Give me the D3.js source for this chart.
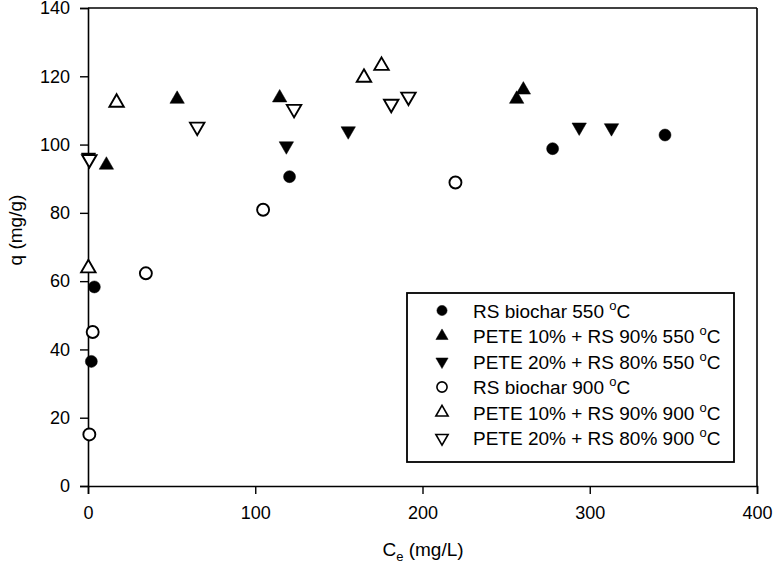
<!DOCTYPE html>
<html>
<head>
<meta charset="utf-8">
<script src="https://cdn.jsdelivr.net/npm/d3@7"></script>
<style>
  html, body { margin: 0; padding: 0; background: #fff; }
  svg { display: block; font-family: "Liberation Sans", Arial, sans-serif; }
</style>
</head>
<body>
<svg id="chart" width="775" height="571"></svg>
<script>
// ---- data ----
const xTicks = [0, 100, 200, 300, 400];
const yTicks = [0, 20, 40, 60, 80, 100, 120, 140];

const rs550X = [2, 3.8, 120.5, 277.8, 345];
const rs550Y = [36.5, 58.3, 90.6, 98.8, 102.8];

const pete10_550X = [11, 53.3, 114.6, 256.3, 260.3];
const pete10_550Y = [94.0, 113.3, 113.7, 113.3, 116.0];

const pete20_550X = [0.3, 118.6, 155.6, 293.7, 313.0];
const pete20_550Y = [96.3, 99.6, 104.0, 105.1, 104.9];

const rs900X = [0.8, 2.8, 34.6, 104.7, 219.7];
const rs900Y = [15.1, 45.1, 62.3, 80.9, 88.9];

const pete10_900X = [0.2, 17.1, 165.0, 175.5];
const pete10_900Y = [63.8, 112.3, 119.6, 123.1];

const pete20_900X = [0.8, 65.3, 123.2, 181.3, 191.6];
const pete20_900Y = [95.7, 105.2, 110.4, 111.9, 114.0];

const seriesNames = [
  "RS biochar 550",
  "PETE 10% + RS 90% 550",
  "PETE 20% + RS 80% 550",
  "RS biochar 900",
  "PETE 10% + RS 90% 900",
  "PETE 20% + RS 80% 900"
];

// ---- build ----
const series = [
  { name: seriesNames[0], xs: rs550X, ys: rs550Y, shape: "circle", filled: true },
  { name: seriesNames[1], xs: pete10_550X, ys: pete10_550Y, shape: "up", filled: true },
  { name: seriesNames[2], xs: pete20_550X, ys: pete20_550Y, shape: "down", filled: true },
  { name: seriesNames[3], xs: rs900X, ys: rs900Y, shape: "circle", filled: false },
  { name: seriesNames[4], xs: pete10_900X, ys: pete10_900Y, shape: "up", filled: false },
  { name: seriesNames[5], xs: pete20_900X, ys: pete20_900Y, shape: "down", filled: false }
];

const svg = d3.select("#chart");
const x = d3.scaleLinear().domain([0, 400]).range([88, 757]);
const y = d3.scaleLinear().domain([0, 140]).range([486, 8]);

function symPath(shape, scale) {
  if (shape === "circle") return d3.symbol().type(d3.symbolCircle).size(113 * scale)();
  return d3.symbol().type(d3.symbolTriangle).size(90 * scale)();
}
function symTransform(shape, px, py) {
  if (shape === "down") return `translate(${px},${py}) rotate(180)`;
  return `translate(${px},${py})`;
}

// frame (top and right)
svg.append("line").attr("x1", x(0)).attr("x2", x(400)).attr("y1", y(140)).attr("y2", y(140))
  .attr("stroke", "#000").attr("stroke-width", 1.6);
svg.append("line").attr("x1", x(400)).attr("x2", x(400)).attr("y1", y(0)).attr("y2", y(140))
  .attr("stroke", "#000").attr("stroke-width", 1.6);

// axes
const xAxis = svg.append("g").attr("transform", `translate(0,${y(0)})`)
  .call(d3.axisBottom(x).tickValues(xTicks).tickSize(8).tickPadding(12).tickFormat(d3.format("d")));
const yAxis = svg.append("g").attr("transform", `translate(${x(0)},0)`)
  .call(d3.axisLeft(y).tickValues(yTicks).tickSize(8).tickPadding(10).tickFormat(d3.format("d")));
[xAxis, yAxis].forEach(g => {
  g.select(".domain").attr("stroke", "#000").attr("stroke-width", 1.6);
  g.selectAll(".tick line").attr("stroke", "#000").attr("stroke-width", 1.4);
  g.selectAll(".tick text").attr("fill", "#000").attr("font-family", "Liberation Sans, Arial, sans-serif")
    .attr("font-size", 18);
});

// axis titles
const xt = svg.append("text").attr("x", 423).attr("y", 556).attr("text-anchor", "middle")
  .attr("font-size", 19).attr("fill", "#000");
xt.append("tspan").text("C");
xt.append("tspan").attr("font-size", 13).attr("dy", 5).text("e");
xt.append("tspan").attr("dy", -5).text(" (mg/L)");

svg.append("text").attr("transform", "translate(22,230) rotate(-90)").attr("text-anchor", "middle")
  .attr("font-size", 19).attr("fill", "#000").text("q (mg/g)");

// points: filled first, open on top
series.forEach(s => {
  const pts = s.xs.map((v, k) => [v, s.ys[k]]);
  svg.append("g").selectAll("path").data(pts).join("path")
    .attr("d", symPath(s.shape, 1))
    .attr("transform", d => symTransform(s.shape, x(d[0]), y(d[1])))
    .attr("fill", s.filled ? "#000" : "#fff")
    .attr("stroke", "#000")
    .attr("stroke-width", s.filled ? 0.5 : 1.9);
});

// legend
const lg = svg.append("g");
lg.append("rect").attr("x", 407).attr("y", 293).attr("width", 327).attr("height", 169)
  .attr("fill", "#fff").attr("stroke", "#000").attr("stroke-width", 1.8);
series.forEach((s, i) => {
  const cy = 310.5 + i * 25.5;
  lg.append("path").attr("d", symPath(s.shape, 0.72))
    .attr("transform", symTransform(s.shape, 442, cy))
    .attr("fill", s.filled ? "#000" : "#fff")
    .attr("stroke", "#000").attr("stroke-width", s.filled ? 0.5 : 1.6);
  const t = lg.append("text").attr("x", 473).attr("y", cy + 7).attr("font-size", 19).attr("fill", "#000");
  t.append("tspan").text(s.name + " ");
  t.append("tspan").attr("font-size", 13).attr("dy", -8).text("o");
  t.append("tspan").attr("dy", 8).text("C");
});
</script>
</body>
</html>
